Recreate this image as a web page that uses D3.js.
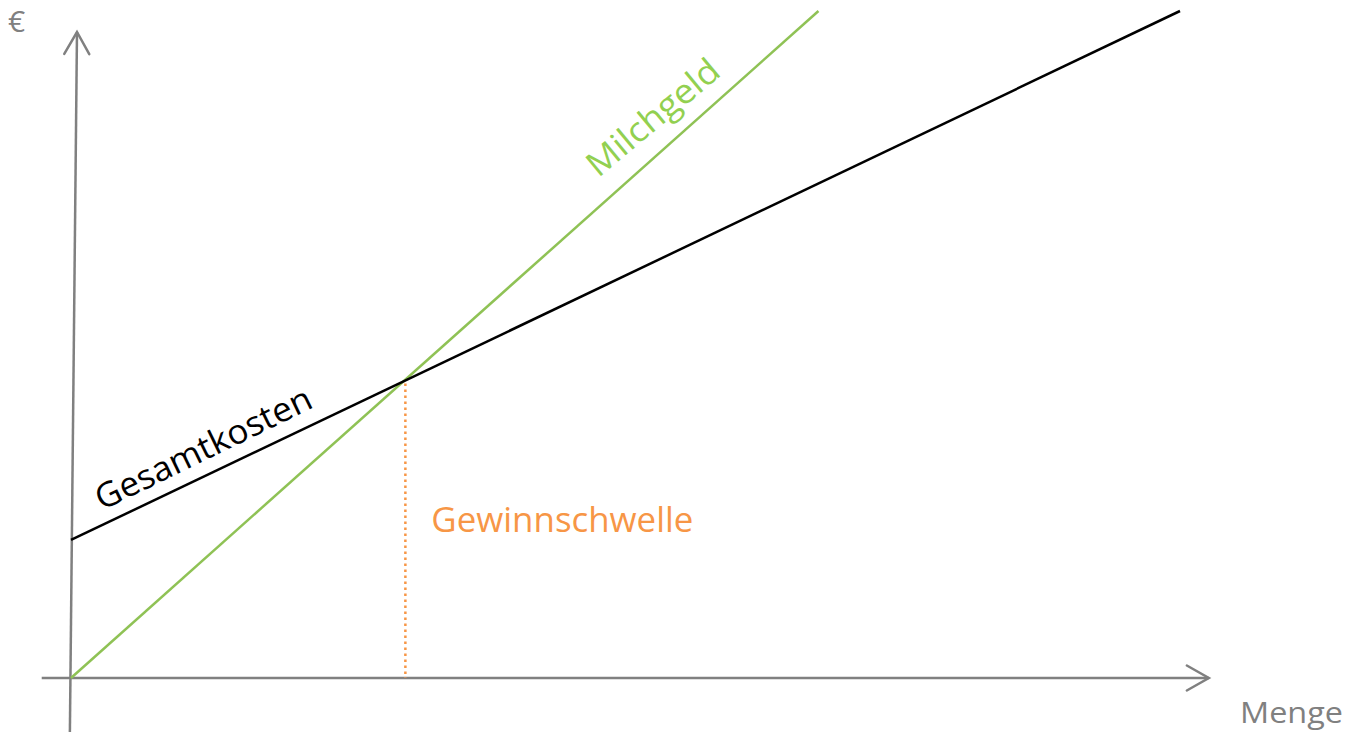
<!DOCTYPE html>
<html>
<head>
<meta charset="utf-8">
<script src="https://cdn.jsdelivr.net/npm/d3@7"></script>
<style>
html,body{margin:0;padding:0;background:#fff;}
svg{display:block;}
text{font-family:"Open Sans","Noto Sans",sans-serif;}
</style>
</head>
<body>
<svg id="chart" width="1350" height="732"></svg>
<script>
// ---- data ----
const costQuantity = [0, 10];
const costValues = [20.7, 100];          // Gesamtkosten
const revenueQuantity = [0, 6.74];
const revenueValues = [0, 100];          // Milchgeld
const xAxisExtent = [-0.264, 10.26];
const yAxisExtent = [-8.1, 96.85];
const yAxisLean = [-0.01, 0.054];
const labels = {cost: "Gesamtkosten", revenue: "Milchgeld", breakeven: "Gewinnschwelle", xTitle: "Menge", yTitle: "€"};

const W = 1350, H = 732;
const svg = d3.select("#chart");
const x = d3.scaleLinear().domain([0, 10]).range([71, 1180]);
const y = d3.scaleLinear().domain([0, 100]).range([678, 11]);

const gray = "#808080";
// axes
svg.append("line").attr("x1", x(xAxisExtent[0])).attr("x2", x(xAxisExtent[1]))
  .attr("y1", y(0)).attr("y2", y(0)).attr("stroke", gray).attr("stroke-width", 2.5);
const yb = [x(yAxisLean[0]), y(yAxisExtent[0])], yt = [x(yAxisLean[1]), y(yAxisExtent[1])];
svg.append("line").attr("x1", yb[0]).attr("y1", yb[1]).attr("x2", yt[0]).attr("y2", yt[1])
  .attr("stroke", gray).attr("stroke-width", 2.5);

function arrow(tip, from, len, half) {
  const dx = tip[0]-from[0], dy = tip[1]-from[1], L = Math.hypot(dx, dy);
  const ux = dx/L, uy = dy/L, px = -uy, py = ux;
  const bx = tip[0]-ux*len, by = tip[1]-uy*len;
  svg.append("polyline")
    .attr("points", [[bx+px*half, by+py*half], tip, [bx-px*half, by-py*half]].map(p => p.join(",")).join(" "))
    .attr("fill", "none").attr("stroke", gray).attr("stroke-width", 2.5)
    .attr("stroke-linecap", "round").attr("stroke-linejoin", "miter");
}
arrow(yt, yb, 22, 12.5);
arrow([x(xAxisExtent[1]), y(0)], [x(xAxisExtent[0]), y(0)], 22, 12.5);

// lines
const line = d3.line().x(d => x(d[0])).y(d => y(d[1]));
const costData = costQuantity.map((q, i) => [q, costValues[i]]);
const revData = revenueQuantity.map((q, i) => [q, revenueValues[i]]);
svg.append("path").datum(revData).attr("d", line).attr("fill", "none")
  .attr("stroke", "#8FC255").attr("stroke-width", 2.5);
svg.append("path").datum(costData).attr("d", line).attr("fill", "none")
  .attr("stroke", "#000").attr("stroke-width", 2.5);

// break-even
const cSlope = (costValues[1]-costValues[0])/(costQuantity[1]-costQuantity[0]);
const rSlope = (revenueValues[1]-revenueValues[0])/(revenueQuantity[1]-revenueQuantity[0]);
const beX = (costValues[0]-revenueValues[0])/(rSlope-cSlope);
const beY = revenueValues[0] + rSlope*beX;
svg.append("line").attr("x1", x(beX)+2).attr("x2", x(beX)+2).attr("y1", y(beY)+2).attr("y2", y(0))
  .attr("stroke", "#F79646").attr("stroke-width", 2.5).attr("stroke-dasharray", "2.5,3.5");
svg.append("text").attr("x", x(beX)+28).attr("y", 532)
  .attr("font-size", 34).attr("fill", "#F79646")
  .attr("textLength", 262).attr("lengthAdjust", "spacingAndGlyphs")
  .text(labels.breakeven);

// rotated labels
function lineLabel(data, slope, qx, off, txt, color, len, angAdj) {
  const ang = Math.atan2(y(data[0][1] + slope*1) - y(data[0][1]), x(1) - x(0)) * 180/Math.PI + angAdj;
  const px = x(qx), py = y(data[0][1] + slope*(qx - data[0][0]));
  svg.append("text").attr("transform", `translate(${px},${py}) rotate(${ang})`)
    .attr("x", 0).attr("y", -off).attr("font-size", 34).attr("fill", color)
    .attr("textLength", len).attr("lengthAdjust", "spacingAndGlyphs")
    .text(txt);
}
lineLabel(costData, cSlope, 0.33, 13, labels.cost, "#000", 237, -0.5);
lineLabel(revData, rSlope, 4.88, 22, labels.revenue, "#92D050", 162, 2);

// axis titles
svg.append("text").attr("x", 1240).attr("y", 723).attr("font-size", 29).attr("fill", gray)
  .attr("textLength", 103).attr("lengthAdjust", "spacingAndGlyphs").text(labels.xTitle);
svg.append("text").attr("x", 8).attr("y", 32).attr("font-size", 30).attr("fill", gray)
  .text(labels.yTitle);
</script>
</body>
</html>
